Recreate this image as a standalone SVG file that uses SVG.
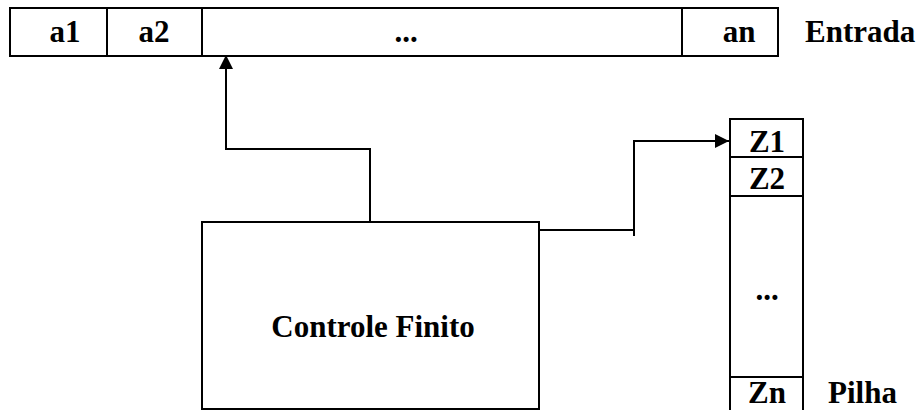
<svg xmlns="http://www.w3.org/2000/svg" width="919" height="410" viewBox="0 0 919 410">
  <style>
    .box { fill: #fff; stroke: #000; stroke-width: 2; }
    .ln { fill: none; stroke: #000; stroke-width: 2; }
    text { font-family: 'Liberation Serif', 'Times New Roman', serif; font-weight: bold; font-size: 31px; fill: #000; }
    .c { text-anchor: middle; }
  </style>
  <defs>
    <marker id="arr" markerUnits="userSpaceOnUse" markerWidth="16" markerHeight="16" viewBox="0 0 16 16" refX="15" refY="8" orient="auto">
      <path d="M1,1 L15,8 L1,15 Z" fill="#000"/>
    </marker>
  </defs>
  <g id="tape">
    <rect class="box" x="10" y="8" width="768" height="48"/>
    <line class="ln" x1="107" y1="8" x2="107" y2="56"/>
    <line class="ln" x1="202" y1="8" x2="202" y2="56"/>
    <line class="ln" x1="682" y1="8" x2="682" y2="56"/>
    <text class="c" x="65" y="42">a1</text>
    <text class="c" x="154" y="42">a2</text>
    <text class="c" x="406" y="42">...</text>
    <text class="c" x="739" y="42">an</text>
  </g>
  <g id="entrada-label">
    <text x="805" y="42">Entrada</text>
  </g>
  <g id="controle">
    <rect class="box" x="202" y="222" width="337" height="187"/>
    <text class="c" x="373" y="337">Controle Finito</text>
  </g>
  <g id="pilha">
    <rect class="box" x="730" y="119" width="73" height="300"/>
    <line class="ln" x1="730" y1="157" x2="803" y2="157"/>
    <line class="ln" x1="730" y1="196" x2="803" y2="196"/>
    <line class="ln" x1="730" y1="377" x2="803" y2="377"/>
    <text class="c" x="767" y="152">Z1</text>
    <text class="c" x="767" y="189">Z2</text>
    <text class="c" x="767" y="300">...</text>
    <text class="c" x="767" y="403">Zn</text>
  </g>
  <g id="pilha-label">
    <text x="828" y="403">Pilha</text>
  </g>
  <g id="connectors">
    <polyline class="ln" points="370,222 370,149 226,149 226,55" marker-end="url(#arr)"/>
    <polyline class="ln" points="539,230 634,230"/>
    <polyline class="ln" points="634,236 634,141 729,141" marker-end="url(#arr)"/>
  </g>
</svg>
